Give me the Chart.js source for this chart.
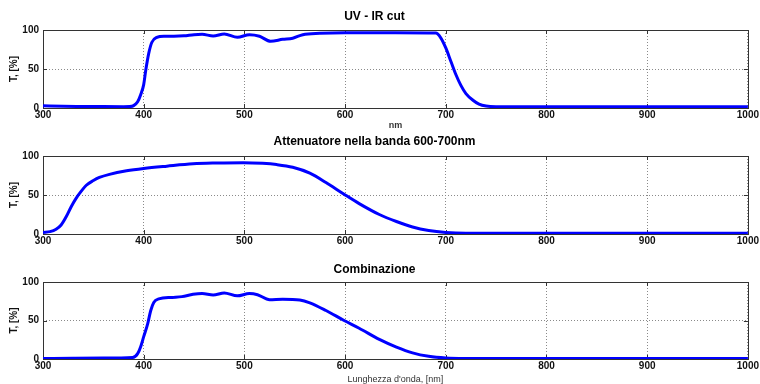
<!DOCTYPE html>
<html>
<head>
<meta charset="utf-8">
<script src="https://cdn.jsdelivr.net/npm/chart.js@4/dist/chart.umd.min.js"></script>
<style>
  html, body { margin: 0; padding: 0; background: #fff; }
  #wrap { position: relative; width: 760px; height: 384px; }
  canvas { position: absolute; left: 0; }
</style>
</head>
<body>
<div id="wrap">
  <canvas id="c1" width="760" height="130" style="top:0"></canvas>
  <canvas id="c2" width="760" height="126" style="top:130px"></canvas>
  <canvas id="c3" width="760" height="128" style="top:256px"></canvas>
</div>
<script>
// dati
const xTicks = [300, 400, 500, 600, 700, 800, 900, 1000];
const yTicks = [0, 50, 100];

const uvirNm = [300, 320, 340, 360, 380, 386, 390, 394, 397, 400, 402, 405, 408, 413, 420, 430, 440, 450, 458, 469, 480, 493, 505, 515, 526, 538, 548, 558, 575, 600, 650, 690, 695, 700, 705, 710, 715, 720, 727, 733, 740, 750, 800, 900, 1000];
const uvirT = [2.8, 2.2, 2, 1.8, 1.7, 1.8, 3, 8, 17, 30, 48, 70, 84, 90.5, 92, 92, 92.5, 94, 94.5, 92.3, 95, 90.6, 94, 92, 85.5, 88, 89.5, 94, 95.7, 96.5, 96.5, 96, 90, 77, 60, 43, 29, 18.5, 10, 5, 2.5, 1.7, 1.5, 1.5, 1.5];

const attNm = [300, 307, 313, 318, 323, 328, 333, 338, 343, 350, 356, 366, 383, 400, 423, 449, 472, 499, 518, 532, 548, 565, 581, 599, 614, 634, 651, 667, 683, 700, 720, 800, 900, 1000];
const attT = [2, 3, 6, 11.5, 22, 35, 46, 55, 62.5, 68.5, 72.5, 76.5, 81, 84, 87, 90, 91, 91.5, 90.6, 89, 85.5, 78, 66, 51, 39, 25, 16, 9, 4.5, 2, 1, 1, 1, 1];

const combNm = [300, 330, 360, 389, 394, 397, 400, 404, 407, 410, 415, 428, 438, 449, 458, 469, 480, 493, 505, 513, 525, 538, 555, 565, 581, 599, 614, 634, 651, 667, 683, 700, 720, 800, 900, 1000];
const combT = [0.5, 1, 1.3, 2, 7, 16, 29, 46, 63, 73.5, 78, 80, 81, 84, 85, 83, 85.7, 82, 85, 83.5, 77, 77.5, 76.6, 73, 63, 50, 40, 25.5, 15.5, 8, 3.5, 1.3, 0.7, 0.5, 0.5, 0.5];

const FONT = '"Liberation Sans", Arial, Helvetica, sans-serif';

// riquadro stile MATLAB con tacche interne
const boxPlugin = {
    id: 'box',
    beforeDatasetsDraw(chart) {
        const { ctx, chartArea: a, scales: { x, y } } = chart;
        ctx.save();
        ctx.strokeStyle = '#333';
        ctx.lineWidth = 1;
        ctx.strokeRect(Math.round(a.left) + 0.5, Math.round(a.top) + 0.5,
            Math.round(a.right - a.left), Math.round(a.bottom - a.top));
        ctx.beginPath();
        x.ticks.forEach(t => {
            const px = Math.round(x.getPixelForValue(t.value)) + 0.5;
            ctx.moveTo(px, a.bottom); ctx.lineTo(px, a.bottom - 4);
            ctx.moveTo(px, a.top); ctx.lineTo(px, a.top + 4);
        });
        y.ticks.forEach(t => {
            const py = Math.round(y.getPixelForValue(t.value)) + 0.5;
            ctx.moveTo(a.left, py); ctx.lineTo(a.left + 4, py);
            ctx.moveTo(a.right, py); ctx.lineTo(a.right - 4, py);
        });
        ctx.stroke();
        ctx.restore();
    }
};

function makeChart(id, nm, t, title, titlePad, xHeight, xTitle) {
    const points = nm.map((v, i) => ({ x: v, y: t[i] }));
    return new Chart(document.getElementById(id), {
        type: 'line',
        data: {
            datasets: [{
                data: points,
                borderColor: '#0000ff',
                borderWidth: 3,
                pointRadius: 0,
                fill: false,
                cubicInterpolationMode: 'monotone',
            }],
        },
        plugins: [boxPlugin],
        options: {
            responsive: false,
            animation: false,
            layout: { padding: { left: 0, right: 11, top: 0, bottom: 0 } },
            plugins: {
                legend: { display: false },
                tooltip: { enabled: false },
                title: {
                    display: true,
                    text: title,
                    color: '#000',
                    font: { family: FONT, size: 12, weight: 'bold', lineHeight: 1 },
                    padding: titlePad,
                },
            },
            scales: {
                x: {
                    type: 'linear',
                    min: 300,
                    max: 1000,
                    afterBuildTicks: s => { s.ticks = xTicks.map(v => ({ value: v })); },
                    afterFit: s => { s.height = xHeight; },
                    ticks: {
                        color: '#111',
                        font: { family: FONT, size: 10, weight: 'bold' },
                        padding: 1,
                        maxRotation: 0,
                        autoSkip: false,
                        callback: v => String(v),
                    },
                    grid: { color: '#8a8a8a', drawTicks: false },
                    border: { display: false, dash: [1, 2] },
                    title: {
                        display: !!xTitle,
                        text: xTitle || '',
                        color: '#333',
                        font: { family: FONT, size: 9, weight: xTitle === 'nm' ? 'bold' : 'normal', lineHeight: 1 },
                        padding: { top: 0, bottom: 0 },
                    },
                },
                y: {
                    min: 0,
                    max: 100,
                    afterBuildTicks: s => { s.ticks = yTicks.map(v => ({ value: v })); },
                    afterFit: s => { s.width = 43; },
                    ticks: {
                        color: '#111',
                        font: { family: FONT, size: 10, weight: 'bold' },
                        padding: 4,
                        callback: v => String(v),
                    },
                    grid: { color: '#8a8a8a', drawTicks: false },
                    border: { display: false, dash: [1, 2] },
                    title: {
                        display: true,
                        text: 'T, [%]',
                        color: '#111',
                        font: { family: FONT, size: 10, weight: 'bold', lineHeight: 1.2 },
                        padding: { top: 8, bottom: 0 },
                    },
                },
            },
        },
    });
}

makeChart('c1', uvirNm, uvirT, 'UV - IR cut', { top: 11, bottom: 7 }, 22, 'nm');
makeChart('c2', attNm, attT, 'Attenuatore nella banda 600-700nm', { top: 6, bottom: 8 }, 22, null);
makeChart('c3', combNm, combT, 'Combinazione', { top: 8, bottom: 6 }, 25, "Lunghezza d'onda, [nm]");
</script>
</body>
</html>
